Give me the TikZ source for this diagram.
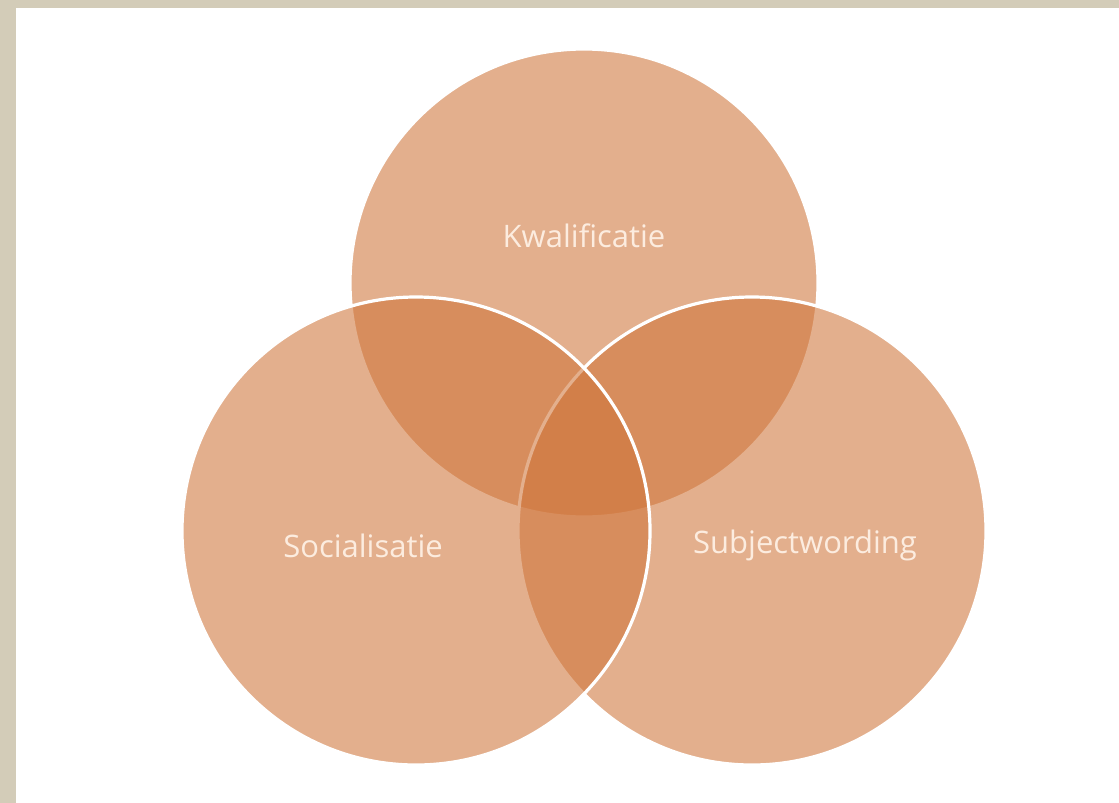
\documentclass[tikz,border=0pt]{standalone}
\usepackage{fontspec}
\setmainfont{Open Sans}
\usepackage{tikz}
\definecolor{frame}{HTML}{D3CCB8}
\definecolor{tint}{HTML}{D0763B}
\definecolor{labeltext}{HTML}{FCECDF}

\begin{document}
\begin{tikzpicture}[x=1pt,y=-1pt,
	ring/.style={circle, inner sep=0pt, minimum size=468pt, fill=tint, fill opacity=0.58, draw=white, line width=3.2pt},
	caption/.style={text=labeltext, font=\fontsize{31}{36}\selectfont, inner sep=0pt}]
						\useasboundingbox (0,0) rectangle (1119,803);
						\fill[frame] (0,0) rectangle (1119,803);
						\fill[white] (16,8) rectangle (1119,803);

						% drawing order gives the white rims
						\node[ring] (kwal) at (584,283) {};
						\node[ring] (subj) at (752,531) {};
						\node[ring] (soc) at (416,531) {};

						\node[caption] (kwaltext) at ([yshift=47pt]kwal.center) {Kwalificatie};
						\node[caption] (soctext) at ([shift={(-53pt,-15pt)}]soc.center) {Socialisatie};
						\node[caption] (subjtext) at ([shift={(53pt,-14pt)}]subj.center) {Subjectwording};
					\end{tikzpicture}
\end{document}
